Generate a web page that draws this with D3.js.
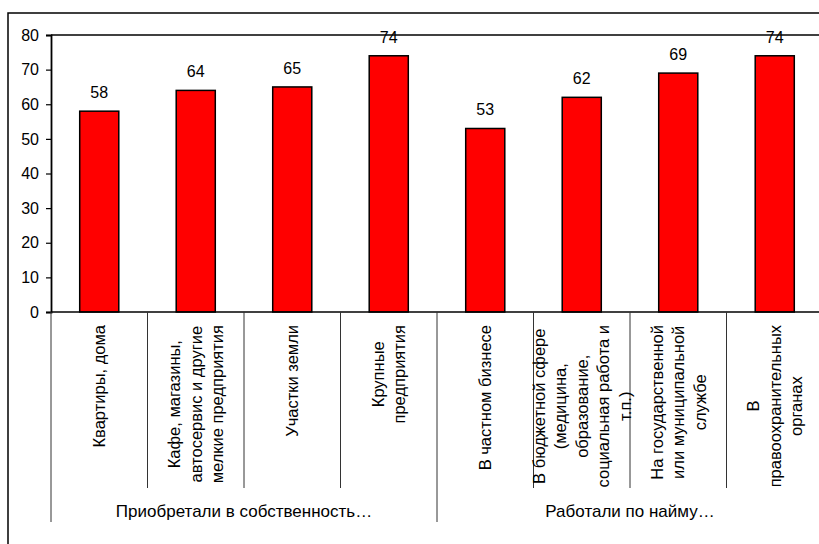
<!DOCTYPE html>
<html>
<head>
<meta charset="utf-8">
<script src="https://cdn.jsdelivr.net/npm/d3@7/dist/d3.min.js"></script>
<style>
  html, body { margin: 0; padding: 0; background: #fff; }
  svg text { font-family: "Liberation Sans", Arial, sans-serif; fill: #000; }
</style>
</head>
<body>
<svg id="chart" width="819" height="544"></svg>
<script>
// ---- data ----
const categories = [
  "Квартиры, дома",
  "Кафе, магазины,\nавтосервис и другие\nмелкие предприятия",
  "Участки земли",
  "Крупные\nпредприятия",
  "В частном бизнесе",
  "В бюджетной сфере\n(медицина,\nобразование,\nсоциальная работа и\nт.п.)",
  "На государственной\nили муниципальной\nслужбе",
  "В\nправоохранительных\nорганах"
];
const values = [58, 64, 65, 74, 53, 62, 69, 74];
const groups = ["Приобретали в собственность…", "Работали по найму…"];
const groupSizes = [4, 4];
const yTicks = [0, 10, 20, 30, 40, 50, 60, 70, 80];

// ---- layout ----
const svg = d3.select("#chart");
const pLeft = 51, pRight = 823, pTop = 35, pBottom = 312;

svg.append("rect").attr("x", 0).attr("y", 0).attr("width", 819).attr("height", 544).attr("fill", "#fff");
// outer chart border (extends past the visible frame)
svg.append("rect").attr("x", 8).attr("y", 13).attr("width", 900).attr("height", 700)
  .attr("fill", "none").attr("stroke", "#000").attr("stroke-width", 1.5);

const x = d3.scaleBand().domain(d3.range(categories.length)).range([pLeft, pRight]).padding(0);
const y = d3.scaleLinear().domain([0, 80]).range([pBottom, pTop]);

// plot area top & right border
svg.append("line").attr("x1", pLeft).attr("x2", pRight).attr("y1", pTop).attr("y2", pTop)
  .attr("stroke", "#000").attr("stroke-width", 1.5);
svg.append("line").attr("x1", pRight).attr("x2", pRight).attr("y1", pTop).attr("y2", pBottom)
  .attr("stroke", "#000").attr("stroke-width", 1.5);

// bars
const barW = x.bandwidth() * 0.405;
svg.append("g").selectAll("rect").data(values).join("rect")
  .attr("x", (d, i) => x(i) + x.bandwidth() / 2 - barW / 2)
  .attr("y", d => y(d))
  .attr("width", barW)
  .attr("height", d => y(0) - y(d))
  .attr("fill", "#ff0000")
  .attr("stroke", "#000")
  .attr("stroke-width", 1.5);

// value labels
svg.append("g").selectAll("text").data(values).join("text")
  .attr("x", (d, i) => x(i) + x.bandwidth() / 2)
  .attr("y", d => y(d) - 13)
  .attr("text-anchor", "middle")
  .style("font-size", "16px")
  .text(d => d);

// y axis
const yAxis = d3.axisLeft(y).tickValues(yTicks).tickSize(5).tickPadding(7);
const gy = svg.append("g").attr("transform", `translate(${pLeft},0)`).call(yAxis);
gy.select(".domain").attr("stroke", "#000").attr("stroke-width", 1.8);
gy.selectAll(".tick line").attr("stroke", "#000").attr("stroke-width", 1.2);
gy.selectAll(".tick text").style("font-size", "16px").attr("fill", "#000")
  .style("font-family", '"Liberation Sans", Arial, sans-serif');

// x axis baseline
svg.append("line").attr("x1", pLeft).attr("x2", pRight).attr("y1", pBottom).attr("y2", pBottom)
  .attr("stroke", "#000").attr("stroke-width", 1.5);

// category dividers
const groupStarts = [0];
groupSizes.forEach((s, i) => groupStarts.push(groupStarts[i] + s));
const dividerIdx = d3.range(categories.length + 1);
svg.append("g").selectAll("line").data(dividerIdx).join("line")
  .attr("x1", i => i < categories.length ? x(i) : pRight)
  .attr("x2", i => i < categories.length ? x(i) : pRight)
  .attr("y1", pBottom)
  .attr("y2", i => groupStarts.includes(i) ? 522 : 488)
  .attr("stroke", "#333")
  .attr("stroke-width", 1);

// category labels (rotated)
const lineH = 21.5;
const catG = svg.append("g");
categories.forEach((c, i) => {
  const lines = c.split("\n");
  const cx = x(i) + x.bandwidth() / 2;
  const t = catG.append("text").style("font-size", "16.5px").attr("text-anchor", "middle");
  const spans = lines.map((ln, k) => t.append("tspan").text(ln));
  const maxW = d3.max(spans, s => s.node().getComputedTextLength());
  const cy = 325 + maxW / 2;
  t.attr("transform", `translate(${cx},${cy}) rotate(-90)`);
  spans.forEach((s, k) => {
    s.attr("x", 0).attr("y", (k - (lines.length - 1) / 2) * lineH).attr("dy", "0.36em");
  });
});

// group labels
groups.forEach((g, gi) => {
  const x0 = x(groupStarts[gi]);
  const x1 = groupStarts[gi + 1] < categories.length ? x(groupStarts[gi + 1]) : pRight;
  svg.append("text").attr("x", (x0 + x1) / 2).attr("y", 517)
    .attr("text-anchor", "middle").style("font-size", "17px").text(g);
});
</script>
</body>
</html>
